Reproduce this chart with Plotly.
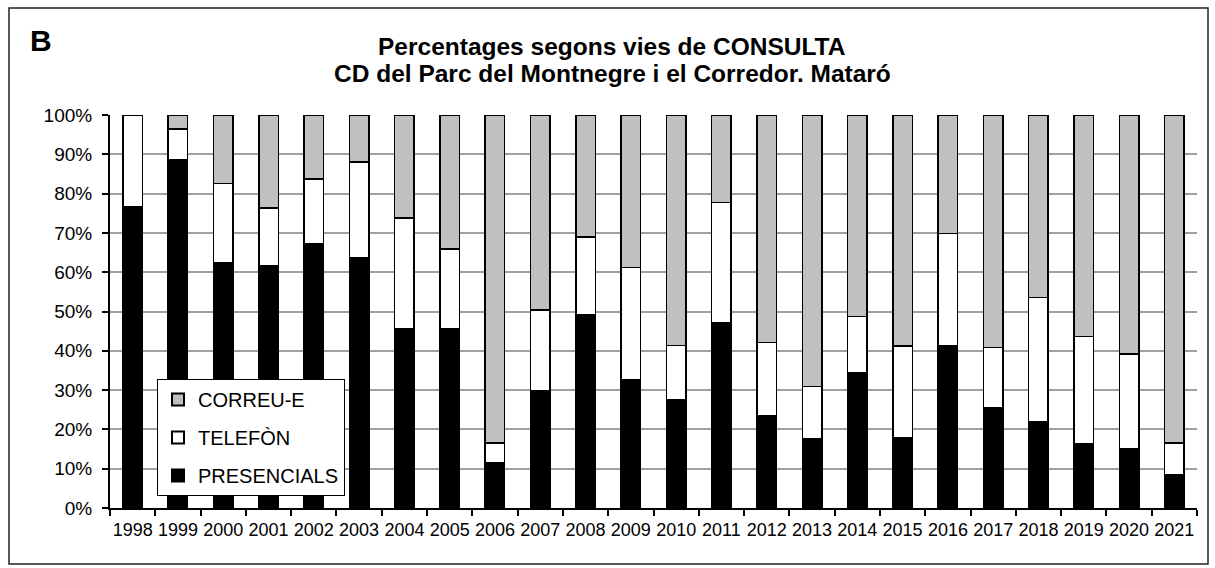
import plotly.graph_objects as go

years = [str(y) for y in range(1998, 2022)]
presencials = [76.7, 88.7, 62.4, 61.7, 67.2, 63.6, 45.7, 45.7, 11.5, 29.9, 49.3, 32.7,
               27.5, 47.2, 23.5, 17.6, 34.5, 17.9, 41.3, 25.5, 22.0, 16.4, 15.2, 8.4]
telefon = [23.3, 7.7, 20.2, 14.6, 16.5, 24.5, 28.1, 20.2, 5.1, 20.5, 19.7, 28.5,
           13.8, 30.6, 18.6, 13.3, 14.2, 23.3, 28.6, 15.4, 31.6, 27.2, 24.0, 8.2]
correu = [0.0, 3.6, 17.4, 23.7, 16.3, 11.9, 26.2, 34.1, 83.4, 49.6, 31.0, 38.8,
          58.7, 22.2, 57.9, 69.1, 51.3, 58.8, 30.1, 59.1, 46.4, 56.4, 60.8, 83.4]
ytick_vals = list(range(0, 101, 10))
ytick_text = [f"{v}%" for v in ytick_vals]

FONT = "Liberation Sans, Arial, sans-serif"
W, H = 1215, 568
L, R, T, B = 110, 18, 115, 60
pw, ph = W - L - R, H - T - B


def px(x):
    return (x - L) / pw


def py(y):
    return (H - B - y) / ph


fig = go.Figure()
series = [("PRESENCIALS", presencials, "#000000", 3),
          ("TELEFÒN", telefon, "#ffffff", 2),
          ("CORREU-E", correu, "#c0c0c0", 1)]
for name, vals, col, rank in series:
    fig.add_trace(go.Bar(
        x=years, y=vals, name=name, legendgroup=name, legendrank=rank,
        marker=dict(color=col, line=dict(color="#000000", width=1.5)),
    ))

fig.update_layout(
    width=W, height=H,
    margin=dict(l=L, r=R, t=T, b=B),
    barmode="stack", bargap=0.57,
    plot_bgcolor="white", paper_bgcolor="white",
    font=dict(family=FONT, size=18, color="black"),
    showlegend=True,
    legend=dict(
        x=px(157), y=py(379), xanchor="left", yanchor="top",
        bgcolor="white", bordercolor="black", borderwidth=1,
        font=dict(size=20, family=FONT),
        traceorder="grouped", tracegroupgap=9,
        itemsizing="constant",
    ),
    xaxis=dict(
        type="category", showline=True, linecolor="black", linewidth=2,
        ticks="outside", tickson="boundaries", ticklen=6, tickwidth=1.5,
        tickcolor="black", showgrid=False, tickfont=dict(size=18), tickangle=0,
        ticklabelstandoff=4,
    ),
    yaxis=dict(
        range=[0, 100], tickvals=ytick_vals, ticktext=ytick_text,
        showline=True, linecolor="black", linewidth=2,
        ticks="outside", ticklen=6, tickwidth=1.5, tickcolor="black",
        showgrid=True, gridcolor="#a0a0a0", gridwidth=1.5, zeroline=False,
        tickfont=dict(size=19), ticklabelstandoff=6,
    ),
    shapes=[dict(type="rect", xref="paper", yref="paper",
                 x0=px(9), x1=px(1208), y0=py(564), y1=py(8),
                 line=dict(color="#222222", width=1.5))],
    annotations=[
        dict(text="<b>B</b>", xref="paper", yref="paper", x=px(28), y=py(22),
             xanchor="left", yanchor="top", showarrow=False,
             font=dict(size=30, family=FONT)),
        dict(text="<b>Percentages segons vies de CONSULTA</b>", xref="paper", yref="paper",
             x=px(612), y=py(46), xanchor="center", yanchor="middle", showarrow=False,
             font=dict(size=24.5, family=FONT)),
        dict(text="<b>CD del Parc del Montnegre i el Corredor. Mataró</b>", xref="paper", yref="paper",
             x=px(612), y=py(73), xanchor="center", yanchor="middle", showarrow=False,
             font=dict(size=24.5, family=FONT)),
    ],
)

fig.write_html("out.html", config={"displayModeBar": False},
               post_script="document.body.style.margin='0px';")
